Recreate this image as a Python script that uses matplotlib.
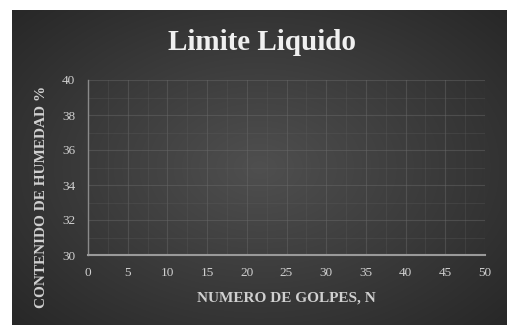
import numpy as np
import matplotlib
matplotlib.use('Agg')
from matplotlib import pyplot as plt

title = 'Limite Liquido'
x_label = 'NUMERO DE GOLPES, N'
y_label = 'CONTENIDO DE HUMEDAD %'
x_ticks = [0, 5, 10, 15, 20, 25, 30, 35, 40, 45, 50]
y_ticks = [30, 32, 34, 36, 38, 40]

plt.rcParams['font.family'] = ['Liberation Serif', 'DejaVu Serif']

W, H = 507, 325
fig = plt.figure(figsize=(W / 100, H / 100), dpi=100)
fig.patch.set_facecolor('white')

# dark panel with a soft radial gradient
panel = fig.add_axes([12 / W, 0, 1 - 12 / W, 1 - 10 / H])
panel.set_axis_off()
yy, xx = np.mgrid[0:1:300j, 0:1:500j]
r = np.sqrt(((xx - 0.5) / 0.75) ** 2 + ((yy - 0.5) / 0.8) ** 2)
shade = np.clip(0.31 - 0.17 * r, 0.14, 0.31)
panel.imshow(np.dstack([shade] * 3), extent=(0, 1, 0, 1), aspect='auto', origin='lower')

ax = fig.add_axes([88 / W, (H - 255) / H, (485 - 88) / W, (255 - 80) / H])
ax.patch.set_alpha(0)
ax.set_xlim(0, 50)
ax.set_ylim(30, 40)
ax.set_xticks(x_ticks)
ax.set_yticks(y_ticks)
ax.set_xticks(np.arange(0, 51, 2.5), minor=True)
ax.set_yticks(np.arange(30, 41, 1), minor=True)
ax.grid(True, which='major', color='#6a6a6a', lw=0.8, alpha=0.45)
ax.grid(True, which='minor', color='#5e5e5e', lw=0.6, alpha=0.35)
ax.tick_params(which='both', length=0, colors='#d0d0d0', labelsize=9.5, pad=9)
for s in ['top', 'right']:
    ax.spines[s].set_visible(False)
ax.spines['bottom'].set_color('#9a9a9a')
ax.spines['bottom'].set_linewidth(1.5)
ax.spines['left'].set_color('#8a8a8a')
ax.spines['left'].set_linewidth(1.0)

fig.text(262 / W, 1 - 42 / H, title, ha='center', va='center',
         fontsize=21, fontweight='bold', color='#f0f0f0')
fig.text(286 / W, 1 - 298 / H, x_label, ha='center', va='center',
         fontsize=11, fontweight='bold', color='#d0d0d0')
fig.text(42 / W, 1 - 197 / H, y_label, ha='center', va='center', rotation=90,
         fontsize=11, fontweight='bold', color='#d0d0d0')

fig.savefig('out.png', dpi=100, facecolor=fig.get_facecolor())
